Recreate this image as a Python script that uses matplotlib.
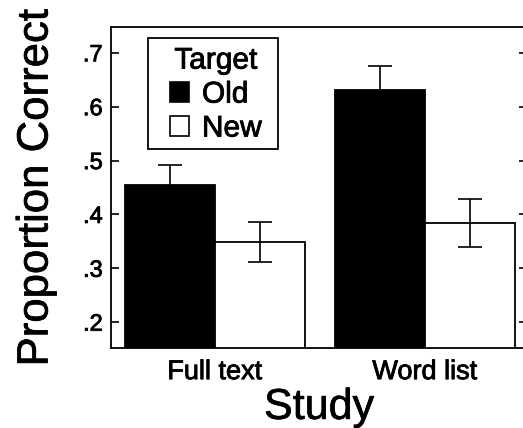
import matplotlib
matplotlib.use("Agg")
import matplotlib.pyplot as plt
from matplotlib.patches import Patch, Rectangle
import matplotlib.patheffects as pe
import numpy as np

plt.rcParams['font.family'] = ['Liberation Sans', 'DejaVu Sans']

# data
studies = ["Full text", "Word list"]
old_vals = [0.455, 0.631]
old_err = [0.037, 0.045]
new_vals = [0.349, 0.384]
new_err = [0.037, 0.044]
yticks = [0.2, 0.3, 0.4, 0.5, 0.6, 0.7]
ytick_labels = [".2", ".3", ".4", ".5", ".6", ".7"]

fig = plt.figure(figsize=(5.23, 4.28), dpi=100)
ax = fig.add_axes([111/523, 80/428, 416/523, 321/428])

x = np.arange(len(studies))
w = 0.43
ax.bar(x - w/2, old_vals, w, color='black', edgecolor='black', linewidth=1.3, zorder=2)
ax.bar(x + w/2, new_vals, w, color='white', edgecolor='black', linewidth=1.3, zorder=2)
ax.errorbar(x - w/2, old_vals, yerr=old_err, fmt='none', ecolor='black',
            elinewidth=1.2, capsize=8.5, capthick=1.2, zorder=3)
ax.errorbar(x + w/2, new_vals, yerr=new_err, fmt='none', ecolor='black',
            elinewidth=1.2, capsize=8.5, capthick=1.2, zorder=3)

ax.set_xlim(-0.495, 1.486)
ax.set_ylim(0.152, 0.748)
ax.set_yticks(yticks)
ax.set_yticklabels(ytick_labels, fontsize=17)
ax.set_xticks(x)
ax.set_xticklabels(studies, fontsize=19.5)
ax.tick_params(axis='y', direction='in', length=6, width=1.2, right=True, pad=6)
ax.tick_params(axis='x', length=0, pad=8)
for s in ax.spines.values():
    s.set_linewidth(1.3)

ax.set_ylabel("Proportion Correct", fontsize=31.5, labelpad=19)
ax.set_xlabel("Study", fontsize=31, labelpad=2)

# the scanned original has heavy strokes, thicken the text slightly
bold = [pe.withStroke(linewidth=0.6, foreground='black')]
for t in ax.get_yticklabels() + ax.get_xticklabels():
    t.set_path_effects(bold)
ax.yaxis.label.set_path_effects([pe.withStroke(linewidth=0.5, foreground='black')])
ax.xaxis.label.set_path_effects([pe.withStroke(linewidth=0.5, foreground='black')])

handles = [Patch(facecolor='black', edgecolor='black', linewidth=1.2),
           Patch(facecolor='white', edgecolor='black', linewidth=1.2)]
leg = ax.legend(handles, ["Old", "New"], title="Target", fontsize=21.5,
                title_fontsize=21.5, loc='upper left', bbox_to_anchor=(0.1418, 0.939),
                borderaxespad=0, frameon=False,
                handlelength=0.65, handleheight=0.65, handletextpad=0.42,
                labelspacing=0.2, borderpad=0)
for t in leg.get_texts() + [leg.get_title()]:
    t.set_path_effects(bold)
# legend frame drawn a bit wider than the entries, as in the original
ax.add_patch(Rectangle((0.0889, 0.620), 0.3125, 0.3457, transform=ax.transAxes,
                       facecolor='white', edgecolor='black', linewidth=1.3, zorder=4))
leg.set_zorder(5)

fig.savefig("out.png", dpi=100)
